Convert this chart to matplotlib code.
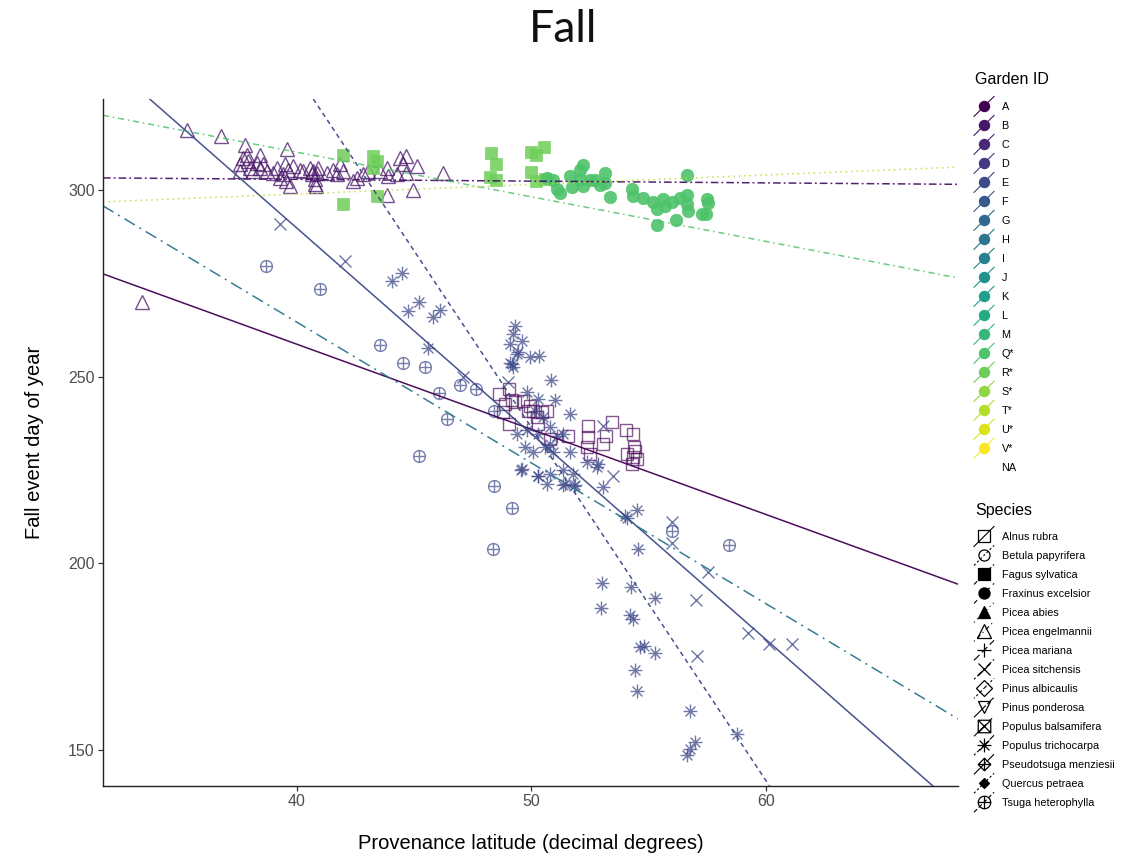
import numpy as np
import matplotlib
matplotlib.use("Agg")
import matplotlib.pyplot as plt
from matplotlib.path import Path
from matplotlib.lines import Line2D
from matplotlib.legend_handler import HandlerBase

plt.rcParams['font.family'] = ['Liberation Sans', 'DejaVu Sans']

# ---------------- data ----------------
gardens = ['A', 'B', 'C', 'D', 'E', 'F', 'G', 'H', 'I', 'J', 'K', 'L', 'M',
           'Q*', 'R*', 'S*', 'T*', 'U*', 'V*']
species_names = ['Alnus rubra', 'Betula papyrifera', 'Fagus sylvatica', 'Fraxinus excelsior',
                 'Picea abies', 'Picea engelmannii', 'Picea mariana', 'Picea sitchensis',
                 'Pinus albicaulis', 'Pinus ponderosa', 'Populus balsamifera',
                 'Populus trichocarpa', 'Pseudotsuga menziesii', 'Quercus petraea',
                 'Tsuga heterophylla']

# Picea engelmannii (garden B)
engel_lat = [33.4, 35.3, 36.75, 37.78, 39.56, 37.85, 38.42, 37.92, 37.57, 38.28, 38.56, 38.0,
             39.13, 39.49, 39.63, 39.84, 40.13, 40.55, 40.70, 40.84, 40.27, 40.63, 40.77, 40.77,
             39.70, 39.42, 39.28, 41.55, 41.83, 41.97, 41.69, 42.55, 42.83, 43.04, 43.54, 43.83,
             43.90, 44.39, 44.53, 45.10, 46.24, 43.83, 44.96, 37.57, 38.14, 38.71, 37.71, 38.42,
             38.99, 40.91, 41.27, 42.41, 44.67, 44.25, 39.53, 44.65, 40.81]
engel_doy = [270.0, 316.0, 314.4, 312.2, 310.9, 309.5, 309.5, 307.8, 306.9, 307.3, 306.9, 306.0,
             306.0, 306.9, 305.5, 306.4, 305.5, 306.0, 305.1, 304.6, 305.1, 304.2, 302.9, 301.5,
             301.1, 304.2, 303.3, 305.5, 306.9, 305.1, 304.2, 303.3, 304.2, 305.1, 305.1, 306.0,
             303.7, 308.6, 306.9, 306.4, 304.6, 298.8, 299.9, 305.1, 305.1, 305.1, 308.6, 306.0,
             304.6, 306.0, 304.6, 302.4, 304.6, 304.2, 302.4, 309.1, 301.1]

# Fagus sylvatica (garden R*)
fagus_lat = [41.97, 43.25, 43.4, 43.25, 43.4, 41.97, 48.26, 48.49, 48.23, 48.49, 49.98, 50.19,
             50.55, 49.98, 50.19, 50.58]
fagus_doy = [309.5, 309.1, 307.8, 306.0, 298.4, 296.3, 309.9, 307.0, 303.5, 302.6, 310.2, 309.5,
             311.6, 304.9, 302.4, 302.9]

# Fraxinus excelsior (garden Q*)
frax_lat = [50.68, 50.93, 51.07, 51.22, 51.64, 51.71, 52.07, 52.21, 52.07, 52.21, 52.49, 52.71,
            52.92, 53.13, 53.13, 53.35, 54.27, 54.32, 54.77, 55.17, 55.34, 55.62, 55.69, 55.98,
            56.33, 56.62, 56.62, 56.62, 56.69, 56.16, 55.37, 57.26, 57.44, 57.47, 57.54]
frax_doy = [303.3, 302.6, 300.2, 299.3, 303.7, 300.8, 305.3, 306.7, 302.9, 301.1, 302.6, 302.6,
            301.3, 304.6, 302.0, 298.1, 300.2, 298.4, 297.9, 296.9, 294.8, 297.5, 295.7, 296.9,
            297.9, 298.8, 304.0, 296.2, 294.4, 292.0, 290.6, 293.7, 293.5, 297.5, 296.6]

# Alnus rubra (garden A)
alnus_lat = [48.63, 49.05, 48.87, 49.16, 49.30, 48.80, 49.05, 49.65, 49.94, 50.08, 50.22, 50.65,
             50.79, 51.57, 52.42, 52.42, 52.38, 52.49, 53.06, 53.18, 53.42, 54.03, 54.34, 54.37,
             54.06, 54.27, 54.49, 54.41, 54.34, 49.87, 50.44, 50.29]
alnus_doy = [245.4, 246.7, 242.7, 243.8, 243.1, 240.5, 237.4, 243.6, 242.2, 240.9, 239.1, 240.9,
             233.3, 234.2, 236.9, 233.8, 231.1, 229.3, 232.0, 234.2, 237.8, 235.6, 234.7, 231.1,
             229.3, 226.7, 228.0, 230.2, 228.4, 240.9, 240.5, 237.4]

# Populus trichocarpa (garden E)
poptri_lat = [44.04, 44.46, 45.22, 44.75, 45.79, 46.10, 45.60, 49.30, 49.22, 49.08, 49.58, 49.37,
              49.94, 50.33, 49.15, 49.22, 49.58, 50.29, 50.65, 49.44, 49.08, 50.85, 49.79, 50.29,
              51.0, 51.64, 50.15, 50.50, 49.37, 49.79, 50.29, 50.79, 51.07, 51.36, 51.64, 49.72,
              50.08, 50.58, 50.79, 50.93, 49.54, 50.29, 50.79, 51.36, 51.43, 51.79, 51.86, 52.35,
              52.85, 52.78, 53.06, 53.99, 54.49, 54.55, 51.36, 51.81, 54.06, 52.99, 54.24, 55.27,
              52.95, 54.20, 54.34, 54.63, 54.80, 55.27, 54.43, 54.49, 56.76, 58.75, 56.97, 56.76,
              56.62]
poptri_doy = [275.7, 277.9, 270.1, 267.5, 266.0, 267.9, 257.8, 263.6, 261.4, 258.7, 259.6, 256.1,
              255.3, 255.6, 253.4, 252.5, 225.3, 223.3, 221.3, 256.5, 253.8, 249.2, 245.8, 244.0,
              243.8, 240.0, 240.9, 239.1, 234.7, 235.6, 234.7, 236.4, 234.2, 234.7, 229.8, 231.1,
              229.8, 231.1, 232.0, 229.8, 224.9, 223.5, 224.0, 224.9, 221.3, 224.0, 220.9, 227.1,
              226.7, 225.8, 220.4, 212.8, 214.4, 203.9, 221.1, 220.6, 212.2, 194.7, 193.7, 190.7,
              188.1, 186.1, 185.2, 177.6, 177.8, 176.0, 171.4, 165.8, 160.4, 154.2, 152.2, 150.2,
              148.7]

# Picea sitchensis (garden E)
sitch_lat = [39.28, 42.05, 47.09, 49.01, 53.06, 53.49, 55.98, 55.98, 57.54, 57.01, 59.25, 60.14,
             61.09, 57.04]
sitch_doy = [291.0, 281.0, 249.8, 248.5, 236.9, 223.5, 211.0, 205.4, 197.7, 190.2, 181.4, 178.5,
             178.5, 175.1]

# Tsuga heterophylla (garden E)
tsuga_lat = [38.67, 40.98, 43.54, 44.53, 45.47, 46.07, 46.95, 47.63, 46.41, 45.20, 48.40, 48.40,
             49.18, 48.37, 55.98, 58.44]
tsuga_doy = [279.7, 273.6, 258.6, 253.7, 252.7, 245.6, 247.9, 246.6, 238.7, 228.7, 240.7, 220.8,
             214.9, 203.9, 208.8, 204.8]

# fitted lines: value at latitude 50 and slope (days per degree)
fit_garden = ['A', 'B', 'E', 'E', 'H', 'Q*', 'T*']
fit_y50 = [235.9, 302.4, 234.7, 236.4, 226.9, 298.2, 301.5]
fit_slope = [-2.28, -0.047, -5.51, -9.46, -3.77, -1.195, 0.255]

x_ticks = [40, 50, 60]
y_ticks = [150, 200, 250, 300]

# ---------------- styling helpers ----------------
def gcol(g):
    i = gardens.index(g)
    return plt.cm.viridis(i / (len(gardens) - 1))

def make_asterisk():
    verts, codes = [], []
    for a in np.deg2rad([0, 45, 90, 135]):
        verts += [(-np.cos(a), -np.sin(a)), (np.cos(a), np.sin(a))]
        codes += [Path.MOVETO, Path.LINETO]
    return Path(verts, codes)

def compound(base, extra_segments):
    verts = list(base.vertices)
    codes = list(base.codes)
    for (p, q) in extra_segments:
        verts += [p, q]
        codes += [Path.MOVETO, Path.LINETO]
    return Path(verts, codes)

circ = Path.unit_circle()
circle_plus = compound(circ, [((-1, 0), (1, 0)), ((0, -1), (0, 1))])
sq = Path([(-1, -1), (1, -1), (1, 1), (-1, 1), (-1, -1)],
          [Path.MOVETO, Path.LINETO, Path.LINETO, Path.LINETO, Path.CLOSEPOLY])
square_x = compound(sq, [((-1, -1), (1, 1)), ((-1, 1), (1, -1))])
dia = Path([(0, -1), (1, 0), (0, 1), (-1, 0), (0, -1)],
           [Path.MOVETO, Path.LINETO, Path.LINETO, Path.LINETO, Path.CLOSEPOLY])
diamond_plus = compound(dia, [((-1, 0), (1, 0)), ((0, -1), (0, 1))])
asterisk = make_asterisk()

# ---------------- figure ----------------
fig = plt.figure(figsize=(11.43, 8.56), dpi=100)
ax = fig.add_axes([103 / 1143, 1 - 786 / 856, (958 - 103) / 1143, (786 - 99) / 856])

alpha_pts = 0.75
ax.plot(engel_lat, engel_doy, ls='none', marker='^', ms=10.5, mfc='none',
        mec=gcol('B'), mew=1.0, alpha=alpha_pts)
ax.plot(alnus_lat, alnus_doy, ls='none', marker='s', ms=9.3, mfc='none',
        mec=gcol('A'), mew=1.0, alpha=0.65)
ax.plot(poptri_lat, poptri_doy, ls='none', marker=asterisk, ms=10, mfc='none',
        mec=gcol('E'), mew=1.0, alpha=alpha_pts)
ax.plot(sitch_lat, sitch_doy, ls='none', marker='x', ms=8.5,
        mec=gcol('E'), mew=1.0, alpha=alpha_pts)
ax.plot(tsuga_lat, tsuga_doy, ls='none', marker=circle_plus, ms=8.5, mfc='none',
        mec=gcol('E'), mew=1.0, alpha=0.7)
ax.plot(fagus_lat, fagus_doy, ls='none', marker='s', ms=8.0, mfc=gcol('R*'),
        mec=gcol('R*'), mew=0.5, alpha=0.85)
ax.plot(frax_lat, frax_doy, ls='none', marker='o', ms=9.0, mfc=gcol('Q*'),
        mec=gcol('Q*'), mew=0.5, alpha=0.9)

fit_dashes = [None, (5, 2, 1.2, 2), None, (3, 2.5), (8, 3.5, 1.3, 3.5), (4, 2.5, 1, 2.5), (1, 2.5)]
for g, y50, s, d in zip(fit_garden, fit_y50, fit_slope, fit_dashes):
    ln = ax.axline((50, y50), slope=s, color=gcol(g), lw=1.1,
                   alpha=0.95 if g in ('A', 'B', 'E', 'H') else 0.85)
    if d is not None:
        ln.set_dashes(d)

ax.set_xlim(31.73, 68.19)
ax.set_ylim(140.36, 324.4)
ax.set_xticks(x_ticks)
ax.set_yticks(y_ticks)
for sp in ('top', 'right'):
    ax.spines[sp].set_visible(False)
for sp in ('left', 'bottom'):
    ax.spines[sp].set_linewidth(1.0)
    ax.spines[sp].set_color('#222222')
ax.tick_params(axis='both', length=3.5, width=0.9, color='#333333', labelsize=11.5,
               labelcolor='#4D4D4D', pad=2.5)
ax.set_xlabel('Provenance latitude (decimal degrees)', fontsize=14.5, labelpad=18)
ax.set_ylabel('Fall event day of year', fontsize=14.5, labelpad=17)

fig.text(563 / 1143, 1 - 30 / 856, 'Fall', ha='center', va='center', fontsize=32,
         family=['Lato', 'Open Sans', 'DejaVu Sans'], fontweight='normal', color='#111111')

# ---------------- legends ----------------
class Key:
    def __init__(self, color=None, marker=None, ms=7, filled=True, dashes=None, line=True):
        self.color = color
        self.marker = marker
        self.ms = ms
        self.filled = filled
        self.dashes = dashes
        self.line = line

class KeyHandler(HandlerBase):
    def create_artists(self, legend, h, xdescent, ydescent, width, height, fontsize, trans):
        cx = -xdescent + width / 2
        cy = -ydescent + height / 2
        half = width / 2
        arts = []
        if h.line and h.color is not None:
            ln = Line2D([cx - half, cx + half], [cy - half, cy + half], color=h.color, lw=0.8)
            if h.dashes:
                ln.set_dashes(h.dashes)
            ln.set_transform(trans)
            arts.append(ln)
        if h.marker is not None:
            mk = Line2D([cx], [cy], ls='none', marker=h.marker, ms=h.ms,
                        mfc=h.color if h.filled else 'none', mec=h.color, mew=0.9)
            mk.set_transform(trans)
            arts.append(mk)
        if not arts:
            blank = Line2D([cx], [cy], ls='none', marker=None, visible=False)
            blank.set_transform(trans)
            arts.append(blank)
        return arts

garden_handles = [Key(gcol(g), 'o', 7.3, True) for g in gardens] + [Key(None, None, line=False)]
garden_labels = gardens + ['NA']

sp_markers = ['s', 'o', 's', 'o', '^', '^', '+', 'x', 'D', 'v', square_x, asterisk,
              diamond_plus, 'D', circle_plus]
sp_filled = [False, False, True, True, True, False, False, False, False, False, False, False,
             False, True, False]
sp_ms = [9, 8, 8, 8, 9, 10, 10, 9, 8, 9, 9, 10, 9, 5.5, 9]
sp_dashes = [None, (2, 2), (4, 2), (4, 4), (1, 3), (1, 3, 4, 3), (7, 3), (2, 2, 6, 2),
             (1, 2, 2, 2, 3, 2, 4, 2), (15, 2, 8, 2), (15, 4, 4, 4, 8, 4, 4, 4),
             (2, 2, 4, 2, 8, 2, 15, 2), (15, 1), (2, 2), (4, 2)]
species_handles = [Key('black', m, s, f, d) for m, s, f, d in
                   zip(sp_markers, sp_ms, sp_filled, sp_dashes)]

common = dict(frameon=False, borderpad=0, fontsize=7.8,
              handlelength=1.85, handleheight=1.45, labelspacing=0.565, handletextpad=0.7,
              loc='upper left', borderaxespad=0,
              handler_map={Key: KeyHandler()})
leg1 = fig.legend(garden_handles, garden_labels,
                  bbox_to_anchor=(974 / 1143, 1 - 100 / 856), **common)
leg2 = fig.legend(species_handles, species_names,
                  bbox_to_anchor=(974 / 1143, 1 - 530 / 856), **common)
fig.text(975 / 1143, 1 - 80 / 856, 'Garden ID', ha='left', va='center', fontsize=11.5)
fig.text(975 / 1143, 1 - 511 / 856, 'Species', ha='left', va='center', fontsize=11.5)

fig.savefig('out.png', dpi=100)
